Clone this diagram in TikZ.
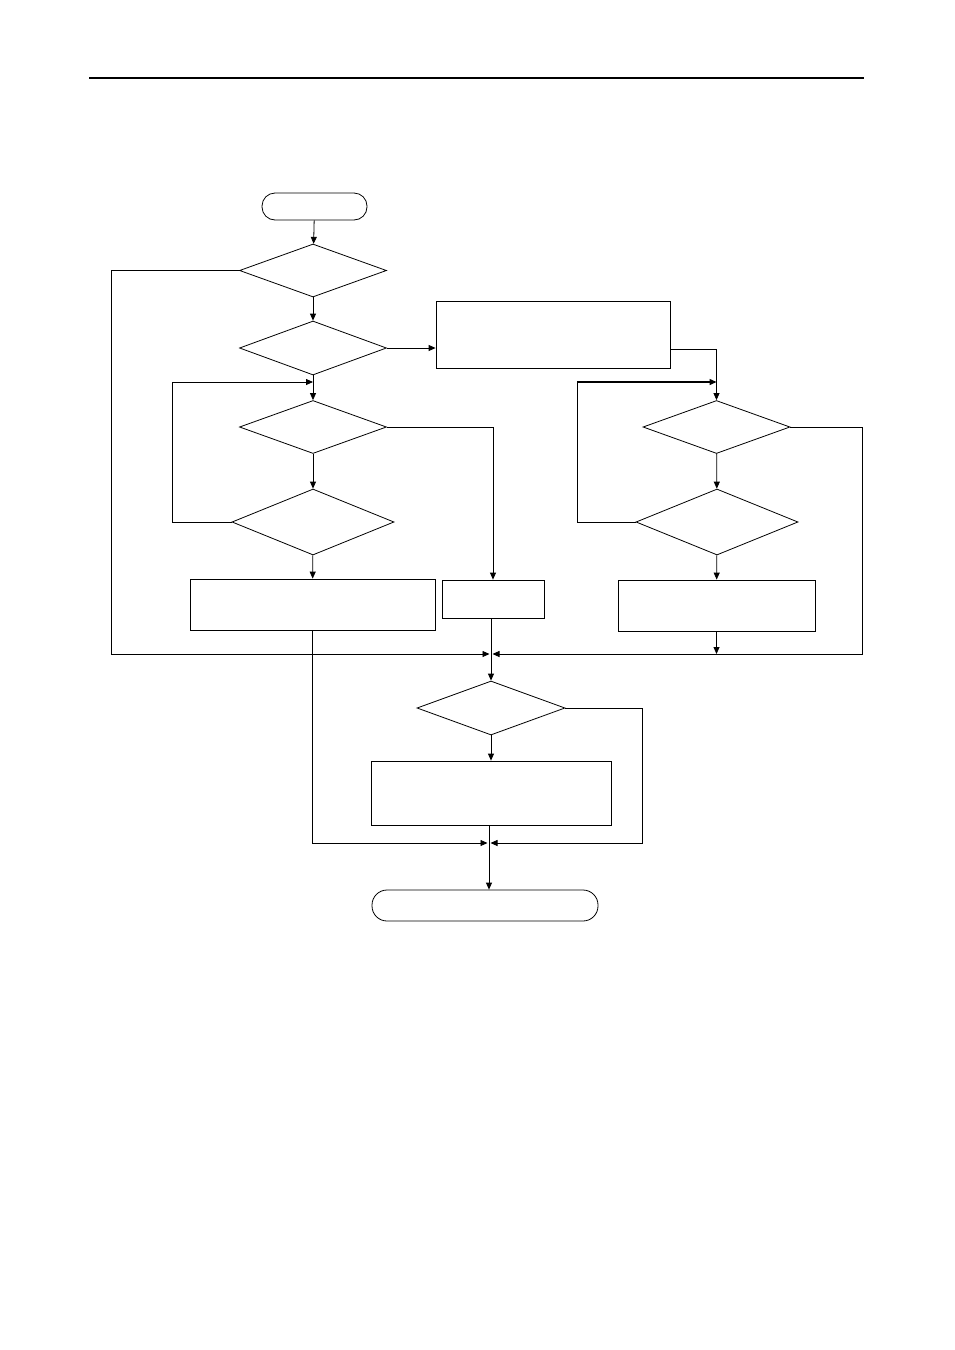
\documentclass[tikz,border=0pt]{standalone}
\usepackage{tikz}
\usetikzlibrary{arrows.meta, positioning, shapes.geometric}

\begin{document}
\begin{tikzpicture}[x=1pt, y=-1pt,
    box/.style={draw, rectangle, line width=0.8pt, inner sep=0pt},
    decision/.style={draw, diamond, line width=0.8pt, inner sep=0pt},
    term/.style={draw, rectangle, line width=0.8pt, inner sep=0pt},
    flow/.style={line width=0.8pt, -{Triangle[length=7pt, width=6pt]}},
    wire/.style={line width=0.8pt},
]
    \useasboundingbox (0,0) rectangle (954,1350);

    % page rule
    \draw[line width=2pt] (89,78) -- (864,78);

    % left column
    \node[term, minimum width=105pt, minimum height=27pt, rounded corners=13pt] (start) at (314.5,206.5) {};
    \node[decision, minimum width=147pt, minimum height=53pt] (chkA) at (313,270.5) {};
    \node[decision, minimum width=147pt, minimum height=54pt] (chkB) at (313,348) {};
    \node[decision, minimum width=147pt, minimum height=53pt] (chkC) at (313,427) {};
    \node[decision, minimum width=162pt, minimum height=66pt] (chkD) at (313,522) {};
    \node[box, minimum width=245pt, minimum height=51pt] (procA) at (312.5,604.5) {};
    \node[box, minimum width=102pt, minimum height=38pt] (procB) at (493,599) {};

    % right column
    \node[box, minimum width=234pt, minimum height=67pt] (setup) at (553,334.5) {};
    \node[decision, minimum width=147pt, minimum height=53pt] (chkE) at (716.5,427) {};
    \node[decision, minimum width=162pt, minimum height=66pt] (chkF) at (717,522) {};
    \node[box, minimum width=197pt, minimum height=51pt] (procC) at (716.5,605.5) {};

    % bottom
    \node[decision, minimum width=148pt, minimum height=54pt] (chkG) at (491,708) {};
    \node[box, minimum width=240pt, minimum height=64pt] (procD) at (491,793) {};
    \node[term, minimum width=226pt, minimum height=31pt, rounded corners=15pt] (stop) at (485,905.5) {};

    \coordinate (joinA) at (491,654);
    \coordinate (joinB) at (489,843);
    \coordinate (loopL) at (313,382);
    \coordinate (loopR) at (716.5,382);
    \coordinate (cornerR) at (577,382);

    % main path
    \draw[flow] (start) -- (chkA);
    \draw[flow] (chkA) -- (chkB);
    \draw[flow] (chkB.east) -- (chkB.east -| setup.west);
    \draw[flow] (chkB) -- (chkC);
    \draw[flow] (chkC) -- (chkD);
    \draw[flow] (chkD) -- (procA);
    \draw[flow] (chkC.east) -| (procB.north);
    \draw[flow] (chkD.west) -- ++(-59,0) |- (loopL);

    % right branch
    \draw[flow] ([yshift=-14.5pt]setup.east) -| (chkE.north);
    \draw[flow] (chkE) -- (chkF);
    \draw[flow] (chkF) -- (procC);
    \draw[wire] (chkF.west) -| (cornerR);
    \draw[flow, line width=1.4pt] (cornerR) -- (loopR);
    \draw[flow] (procC.south) -- (procC.south |- joinA);

    % merge
    \draw[flow, shorten >=1.5pt] (chkA.west) -- ++(-128,0) |- (joinA);
    \draw[flow, shorten >=1.5pt] (chkE.east) -- ++(72,0) |- (joinA);
    \draw[flow] (procB.south -| chkG.north) -- (chkG.north);
    \draw[flow] (chkG) -- (procD);
    \draw[flow, shorten >=1.5pt] (procA.south) |- (joinB);
    \draw[flow, shorten >=1.5pt] (chkG.east) -- ++(77,0) |- (joinB);
    \draw[flow] (procD.south -| joinB) -- (joinB |- stop.north);
\end{tikzpicture}
\end{document}
